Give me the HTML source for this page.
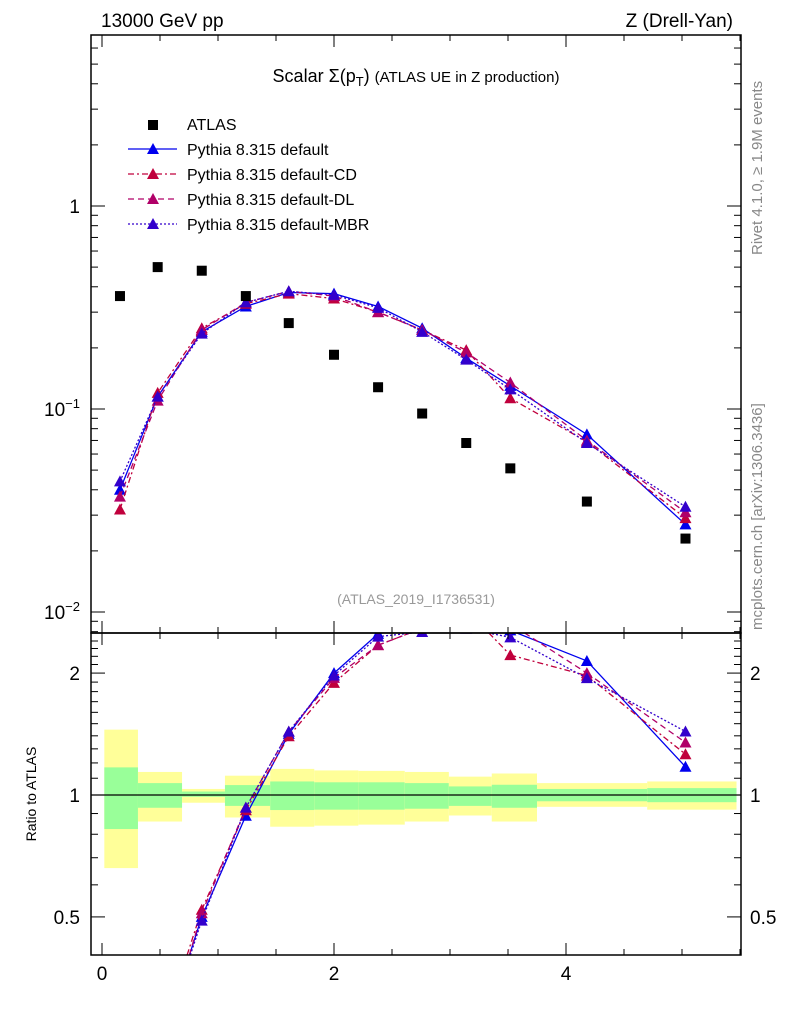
<!DOCTYPE html>
<html><head><meta charset="utf-8"><style>
html,body{margin:0;background:#fff;overflow:hidden;width:786px;height:1024px;}
svg{display:block;font-family:"Liberation Sans",sans-serif;}
</style></head><body>
<svg id="c" width="786" height="1024" viewBox="0 0 786 1024">
<defs>
<clipPath id="cm"><rect x="91" y="35" width="650" height="598"/></clipPath>
<clipPath id="cr"><rect x="91" y="633" width="650" height="322"/></clipPath>
</defs>
<g id="bands" clip-path="url(#cr)"></g>
<g id="marks"></g>
<g id="axes"></g>
<text x="101" y="27" font-size="19">13000 GeV pp</text>
<text x="733" y="27" font-size="19" text-anchor="end">Z (Drell-Yan)</text>
<text x="416" y="82" font-size="18" text-anchor="middle">Scalar Σ(p<tspan font-size="13" dy="4">T</tspan><tspan dy="-4">) </tspan><tspan font-size="15">(ATLAS UE in Z production)</tspan></text>
<text x="416" y="604" font-size="14" fill="#999" text-anchor="middle">(ATLAS_2019_I1736531)</text>
<text transform="translate(762,255) rotate(-90)" font-size="15" fill="#888">Rivet 4.1.0, ≥ 1.9M events</text>
<text transform="translate(762,630) rotate(-90)" font-size="15" fill="#888">mcplots.cern.ch [arXiv:1306.3436]</text>
<text transform="translate(36,794) rotate(-90)" font-size="14" text-anchor="middle">Ratio to ATLAS</text>
<g id="legend"></g>
</svg>
<script>
const NS="http://www.w3.org/2000/svg";
const xCenters=[0.155,0.48,0.86,1.24,1.61,2.0,2.38,2.76,3.14,3.52,4.18,5.03];
const atlas=[0.36,0.50,0.48,0.36,0.265,0.185,0.128,0.095,0.068,0.051,0.035,0.023];
const pyDefault=[0.040,0.115,0.24,0.32,0.375,0.37,0.32,0.25,0.178,0.13,0.075,0.027];
const pyCD=[0.032,0.12,0.25,0.33,0.37,0.35,0.30,0.245,0.195,0.113,0.069,0.029];
const pyDL=[0.037,0.11,0.245,0.335,0.38,0.36,0.30,0.245,0.19,0.135,0.07,0.031];
const pyMBR=[0.044,0.115,0.235,0.335,0.38,0.365,0.315,0.24,0.175,0.125,0.068,0.033];
const binEdges=[0.02,0.31,0.69,1.06,1.45,1.83,2.21,2.61,2.99,3.36,3.75,4.7,5.47];
const yelHi=[1.45,1.14,1.035,1.116,1.16,1.15,1.147,1.14,1.11,1.13,1.07,1.08];
const yelLo=[0.66,0.86,0.957,0.88,0.835,0.84,0.845,0.86,0.89,0.86,0.935,0.92];
const grnHi=[1.17,1.07,1.02,1.058,1.08,1.075,1.075,1.07,1.05,1.06,1.035,1.04];
const grnLo=[0.824,0.93,0.99,0.94,0.918,0.92,0.92,0.925,0.94,0.93,0.965,0.96];
const xTicks=[0,2,4];
const mainTicks=[{v:1,l:"1"},{v:0.1,l:"10"},{v:0.01,l:"10"}];
const ratioTicks=[0.5,1,2];

const X=v=>102+116*v;
const YM=v=>206-203*Math.log10(v);
const YR=v=>795-405*Math.log10(v);
const RT=633,RB=955;
function el(t,a,p){const e=document.createElementNS(NS,t);for(const k in a)e.setAttribute(k,a[k]);p.appendChild(e);return e;}
const bands=document.getElementById('bands'),marks=document.getElementById('marks'),axes=document.getElementById('axes'),leg=document.getElementById('legend');

for(let i=0;i<yelHi.length;i++){
 const x0=X(binEdges[i]),x1=X(binEdges[i+1]);
 const y=el('rect',{x:x0,y:YR(yelHi[i]),width:x1-x0,height:YR(yelLo[i])-YR(yelHi[i]),fill:'#ffff99'},bands);
 
 
 const g=el('rect',{x:x0,y:YR(grnHi[i]),width:x1-x0,height:YR(grnLo[i])-YR(grnHi[i]),fill:'#99ff99'},bands);
 
 
}
const one=el('line',{x1:91,x2:741,y1:YR(1),y2:YR(1),stroke:'#000','stroke-width':1.3},axes);



const series=[
 {d:pyDefault,c:'#0000ee',dash:'',n:'pythia-default'},
 {d:pyCD,c:'#c0003c',dash:'6,3,2,3',n:'pythia-cd'},
 {d:pyDL,c:'#b00068',dash:'6,4',n:'pythia-dl'},
 {d:pyMBR,c:'#3300cc',dash:'2,2',n:'pythia-mbr'}];
function tri(p,x,y,c,n){const t=el('path',{d:`M${x},${y-6}L${x+6},${y+5}L${x-6},${y+5}Z`,fill:c},p);
 
 }
function clipSeg(x1,y1,x2,y2){
 if((y1<RT&&y2<RT)||(y1>RB&&y2>RB))return null;
 const f=(y)=>x1+(x2-x1)*(y-y1)/(y2-y1);
 if(y1<RT){x1=f(RT);y1=RT;}else if(y1>RB){x1=f(RB);y1=RB;}
 if(y2<RT){x2=x1+(x2-x1)*0; }
 return [x1,y1,x2,y2];
}
function clipLine(ax,ay,bx,by){
 const lo=RT,hi=RB;
 if((ay<lo&&by<lo)||(ay>hi&&by>hi))return null;
 const t=(y)=> (y-ay)/(by-ay);
 let t0=0,t1=1;
 if(ay!==by){
  const ta=t(lo),tb=t(hi);
  const tmin=Math.min(ta,tb),tmax=Math.max(ta,tb);
  t0=Math.max(0,tmin);t1=Math.min(1,tmax);
 }
 if(t0>t1)return null;
 return [ax+(bx-ax)*t0,ay+(by-ay)*t0,ax+(bx-ax)*t1,ay+(by-ay)*t1];
}
const gm=el('g',{'clip-path':'url(#cm)'},marks),gr=el('g',{'clip-path':'url(#cr)'},marks);
series.forEach(s=>{
 const pm=s.d.map((v,i)=>X(xCenters[i])+','+YM(v)).join(' ');
 const l=el('polyline',{points:pm,fill:'none',stroke:s.c,'stroke-width':1.3,'stroke-dasharray':s.dash},gm);
 
 
 for(let i=0;i<s.d.length-1;i++){
  const c=clipLine(X(xCenters[i]),YR(s.d[i]/atlas[i]),X(xCenters[i+1]),YR(s.d[i+1]/atlas[i+1]));
  if(!c)continue;
  const seg=el('line',{x1:c[0],y1:c[1],x2:c[2],y2:c[3],stroke:s.c,'stroke-width':1.3,'stroke-dasharray':s.dash},gr);
  
  
 }
 s.d.forEach((v,i)=>{tri(gm,X(xCenters[i]),YM(v),s.c,s.n+'-point');
  const yr=YR(v/atlas[i]);if(yr>RT-8&&yr<RB+8)tri(gr,X(xCenters[i]),yr,s.c,s.n+'-ratio-point');});
});
atlas.forEach((v,i)=>{const r=el('rect',{x:X(xCenters[i])-5,y:YM(v)-5,width:10,height:10,fill:'#000'},gm);
 
 });

[[35,633],[633,955]].forEach(([a,b])=>{const f=el('rect',{x:91,y:a,width:650,height:b-a,fill:'none',stroke:'#000','stroke-width':1.5},axes);
 
 });
for(let v=0;v<=5.5;v+=0.5){const big=Math.abs(v-Math.round(v/2)*2)<1e-6;const L=big?12:6;
 el('line',{x1:X(v),x2:X(v),y1:955,y2:955-L,stroke:'#000'},axes);el('line',{x1:X(v),x2:X(v),y1:633,y2:633+L,stroke:'#000'},axes);
 el('line',{x1:X(v),x2:X(v),y1:35,y2:35+L,stroke:'#000'},axes);el('line',{x1:X(v),x2:X(v),y1:633,y2:633-L,stroke:'#000'},axes);}
xTicks.forEach(v=>{const t=el('text',{x:X(v),y:980,'font-size':19,'text-anchor':'middle'},axes);t.textContent=v;
 
 });
for(let e=-3;e<=1;e++)for(let m=1;m<10;m++){const v=m*Math.pow(10,e);const y=YM(v);if(y<35||y>633)continue;const L=m==1?14:7;
 el('line',{x1:91,x2:91+L,y1:y,y2:y,stroke:'#000'},axes);el('line',{x1:741,x2:741-L,y1:y,y2:y,stroke:'#000'},axes);}
mainTicks.forEach((t,i)=>{const tx=el('text',{x:80,y:YM(t.v)+7,'font-size':19,'text-anchor':'end'},axes);
 
 
 if(i==0)tx.textContent=t.l;else{tx.textContent=t.l;const s=el('tspan',{'font-size':13,dy:-8},tx);s.textContent=i==1?'−1':'−2';}});
for(let v=0.4;v<=2.5;v+=0.1){const y=YR(v);if(y<633||y>955)continue;const major=[0.5,1,2].some(q=>Math.abs(q-v)<1e-6);const L=major?14:7;
 el('line',{x1:91,x2:91+L,y1:y,y2:y,stroke:'#000'},axes);el('line',{x1:741,x2:741-L,y1:y,y2:y,stroke:'#000'},axes);}
ratioTicks.forEach(v=>{[80,750].forEach((x,j)=>{const t=el('text',{x:x,y:YR(v)+7,'font-size':19,'text-anchor':j?'start':'end'},axes);t.textContent=v;
 
 });});
const lr=el('rect',{x:148,y:120,width:10,height:10,fill:'#000'},leg);


const names=['ATLAS','Pythia 8.315 default','Pythia 8.315 default-CD','Pythia 8.315 default-DL','Pythia 8.315 default-MBR'];
names.forEach((n,i)=>{const y=124+25*i;const t=el('text',{x:187,y:y+6,'font-size':16},leg);t.textContent=n;
 
 
 if(i>0){const s=series[i-1];el('line',{x1:128,x2:177,y1:y,y2:y,stroke:s.c,'stroke-width':1.3,'stroke-dasharray':s.dash},leg);tri(leg,153,y,s.c,'legend-marker');}});
</script>
</body></html>
